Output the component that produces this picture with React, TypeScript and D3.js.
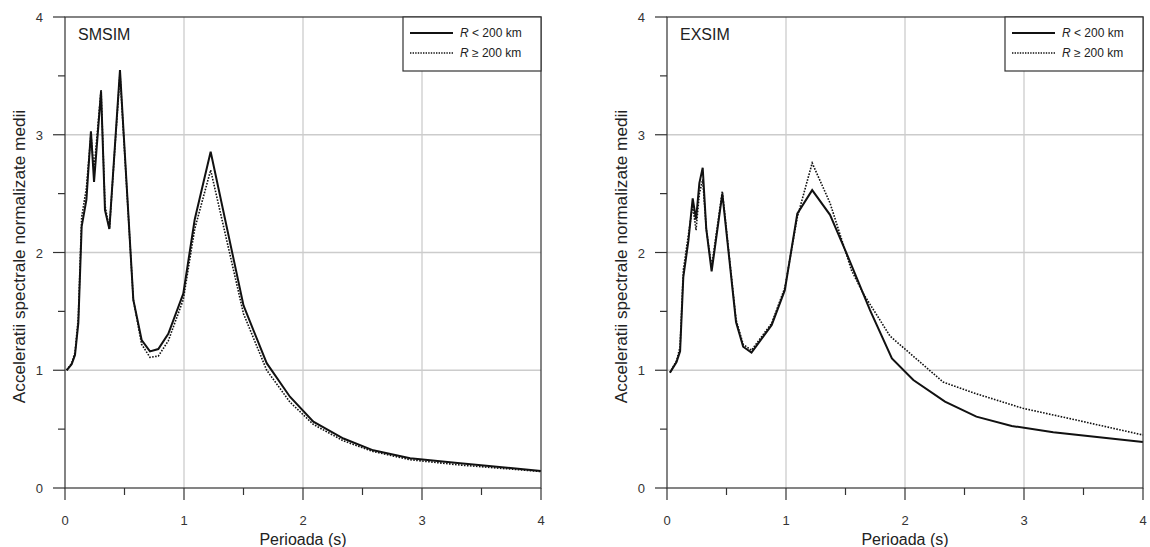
import React from "react";
import * as d3 from "d3";

// ---- data ----
const smsimNearT = [0.014, 0.056, 0.084, 0.112, 0.14, 0.18, 0.218, 0.244, 0.303, 0.336, 0.373, 0.462, 0.574, 0.644, 0.714, 0.784, 0.868, 0.994, 1.09, 1.224, 1.5, 1.695, 1.89, 2.087, 2.34, 2.59, 2.9, 3.32, 4.0];
const smsimNearA = [1.0, 1.05, 1.13, 1.4, 2.22, 2.45, 3.03, 2.6, 3.37, 2.36, 2.2, 3.55, 1.6, 1.257, 1.16, 1.18, 1.31, 1.65, 2.28, 2.856, 1.55, 1.06, 0.775, 0.563, 0.42, 0.32, 0.252, 0.21, 0.145];
const smsimFarT = smsimNearT;
const smsimFarA = [1.0, 1.06, 1.15, 1.45, 2.3, 2.55, 3.0, 2.7, 3.38, 2.4, 2.2, 3.52, 1.6, 1.22, 1.11, 1.12, 1.25, 1.6, 2.2, 2.7, 1.48, 1.0, 0.73, 0.54, 0.4, 0.31, 0.24, 0.195, 0.14];

const exsimNearT = [0.025, 0.08, 0.11, 0.137, 0.18, 0.216, 0.244, 0.272, 0.3, 0.33, 0.375, 0.465, 0.58, 0.64, 0.71, 0.88, 0.99, 1.095, 1.22, 1.37, 1.51, 1.62, 1.706, 1.89, 2.07, 2.336, 2.6, 2.897, 3.246, 4.0];
const exsimNearA = [0.98, 1.07, 1.16, 1.79, 2.1, 2.46, 2.28, 2.59, 2.72, 2.2, 1.84, 2.5, 1.41, 1.2, 1.15, 1.385, 1.68, 2.33, 2.53, 2.32, 1.99, 1.72, 1.51, 1.1, 0.917, 0.733, 0.606, 0.527, 0.473, 0.39];
const exsimFarT = [0.025, 0.08, 0.11, 0.137, 0.18, 0.216, 0.244, 0.272, 0.3, 0.33, 0.375, 0.465, 0.58, 0.64, 0.71, 0.88, 0.99, 1.095, 1.22, 1.37, 1.55, 1.65, 1.75, 1.874, 2.0, 2.32, 2.6, 2.99, 3.44, 4.0];
const exsimFarA = [0.98, 1.08, 1.2, 1.85, 2.15, 2.4, 2.19, 2.5, 2.62, 2.2, 1.88, 2.52, 1.43, 1.22, 1.17, 1.4, 1.7, 2.3, 2.76, 2.42, 1.85, 1.65, 1.49, 1.29, 1.18, 0.9, 0.8, 0.677, 0.577, 0.45];

const xTicks = [0, 1, 2, 3, 4];
const yTicks = [0, 1, 2, 3, 4];
const minorTicks = [0.5, 1.5, 2.5, 3.5];
const panelTitles = ["SMSIM", "EXSIM"];
const xTitle = "Perioada (s)";
const yTitle = "Acceleratii spectrale normalizate medii";

const FONT = "'Liberation Sans', Arial, sans-serif";
const AX = "#333";
const GRID = "#cccccc";

type Pt = [number, number];
const zip = (t: number[], a: number[]): Pt[] => t.map((v, i) => [v, a[i]]);

function Panel({ left, title, near, far }: { left: number; title: string; near: Pt[]; far: Pt[] }) {
  const x = d3.scaleLinear().domain([0, 4]).range([left, left + 476]);
  const y = d3.scaleLinear().domain([0, 4]).range([488, 17]);
  const line = d3.line<Pt>().x((d) => x(d[0])).y((d) => y(d[1]));
  const x0 = x(0), x1 = x(4), y0 = y(0), y1 = y(4);
  const lgL = x1 - 138;
  return (
    <g>
      {/* grid */}
      {[1, 2, 3].map((v) => (
        <line key={"gx" + v} x1={x(v)} x2={x(v)} y1={y0} y2={y1} stroke={GRID} strokeWidth={1.3} />
      ))}
      {[1, 2, 3].map((v) => (
        <line key={"gy" + v} x1={x0} x2={x1} y1={y(v)} y2={y(v)} stroke={GRID} strokeWidth={1.3} />
      ))}
      {/* series */}
      <path d={line(far) || ""} fill="none" stroke="#111" strokeWidth={1.6} strokeDasharray="1.6,1.4" />
      <path d={line(near) || ""} fill="none" stroke="#111" strokeWidth={2} strokeLinejoin="miter" />
      {/* frame */}
      <rect x={x0} y={y1} width={x1 - x0} height={y0 - y1} fill="none" stroke={AX} strokeWidth={1.2} />
      {/* y ticks */}
      {yTicks.map((v) => (
        <g key={"yt" + v}>
          <line x1={x0 - 12} x2={x0} y1={y(v)} y2={y(v)} stroke={AX} strokeWidth={1.2} />
          <text x={x0 - 22} y={y(v) + 5} textAnchor="end" fontSize={13} fill={AX} fontFamily={FONT}>{v}</text>
        </g>
      ))}
      {minorTicks.map((v) => (
        <line key={"ym" + v} x1={x0 - 7} x2={x0} y1={y(v)} y2={y(v)} stroke={AX} strokeWidth={1.2} />
      ))}
      {/* x ticks */}
      {xTicks.map((v) => (
        <g key={"xt" + v}>
          <line x1={x(v)} x2={x(v)} y1={y0} y2={y0 + 12} stroke={AX} strokeWidth={1.2} />
          <text x={x(v)} y={y0 + 37} textAnchor="middle" fontSize={13} fill={AX} fontFamily={FONT}>{v}</text>
        </g>
      ))}
      {minorTicks.map((v) => (
        <line key={"xm" + v} x1={x(v)} x2={x(v)} y1={y0} y2={y0 + 7} stroke={AX} strokeWidth={1.2} />
      ))}
      {/* titles */}
      <text x={(x0 + x1) / 2} y={545} textAnchor="middle" fontSize={16} fill="#222" fontFamily={FONT}>{xTitle}</text>
      <text transform={`translate(${x0 - 40},${(y0 + y1) / 2 + 4}) rotate(-90)`} textAnchor="middle" fontSize={17.2} fill="#222" fontFamily={FONT}>{yTitle}</text>
      <text x={x0 + 13} y={40} fontSize={16} fill="#222" fontFamily={FONT}>{title}</text>
      {/* legend */}
      <rect x={lgL} y={y1} width={138} height={54} fill="white" stroke={AX} strokeWidth={1.2} />
      <line x1={lgL + 7} x2={lgL + 50} y1={y1 + 16} y2={y1 + 16} stroke="#111" strokeWidth={2} />
      <line x1={lgL + 7} x2={lgL + 50} y1={y1 + 36} y2={y1 + 36} stroke="#111" strokeWidth={1.4} strokeDasharray="1.4,1.2" />
      <text x={lgL + 57} y={y1 + 20} fontSize={12} fill="#222" fontFamily={FONT}>
        <tspan fontStyle="italic">R</tspan> &lt; 200 km
      </text>
      <text x={lgL + 57} y={y1 + 40} fontSize={12} fill="#222" fontFamily={FONT}>
        <tspan fontStyle="italic">R</tspan> ≥ 200 km
      </text>
    </g>
  );
}

export default function App() {
  return (
    <svg width={1150} height={547} style={{ position: "absolute", left: 0, top: 0, background: "white" }}>
      <rect width={1150} height={547} fill="white" />
      <Panel left={65} title={panelTitles[0]} near={zip(smsimNearT, smsimNearA)} far={zip(smsimFarT, smsimFarA)} />
      <Panel left={667} title={panelTitles[1]} near={zip(exsimNearT, exsimNearA)} far={zip(exsimFarT, exsimFarA)} />
    </svg>
  );
}
